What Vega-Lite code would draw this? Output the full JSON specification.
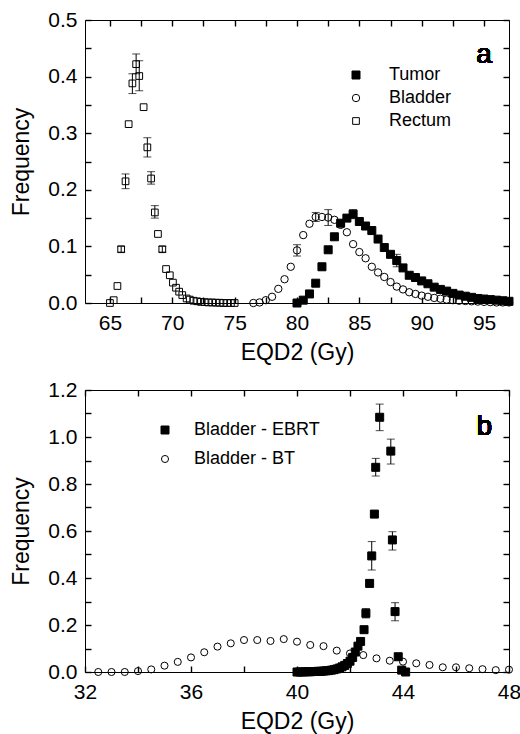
{
  "$schema": "https://vega.github.io/schema/vega-lite/v6.json",
  "padding": {"left": 10, "top": 8, "right": 8, "bottom": 0},
  "spacing": 13,
  "resolve": {"scale": {"shape": "independent", "fill": "independent", "size": "independent"}, "legend": {"shape": "independent", "fill": "independent", "size": "independent"}},
  "config": {
    "font": "Liberation Sans",
    "view": {"stroke": "#000", "strokeWidth": 1},
    "axis": {"grid": false, "domain": false, "ticks": true, "tickSize": 6, "tickWidth": 1.4, "tickOpacity": 1, "offset": -6, "zindex": 1, "labelFlush": false, "labelOverlap": false, "tickColor": "#000", "labelColor": "#000", "titleColor": "#000", "labelFontSize": 21, "titleFontSize": 23, "titleFontWeight": "normal"},
    "axisX": {"labelPadding": 9},
    "axisY": {"labelPadding": 8}
  },
  "datasets": {
    "top": [
      {"g": "Bladder", "x": 76.5, "y": 0.0},
      {"g": "Bladder", "x": 77.0, "y": 0.001},
      {"g": "Bladder", "x": 77.5, "y": 0.005},
      {"g": "Bladder", "x": 78.0, "y": 0.011},
      {"g": "Bladder", "x": 78.5, "y": 0.025},
      {"g": "Bladder", "x": 79.0, "y": 0.042},
      {"g": "Bladder", "x": 79.5, "y": 0.064},
      {"g": "Bladder", "x": 80.0, "y": 0.093, "lo": 0.083, "hi": 0.103},
      {"g": "Bladder", "x": 80.5, "y": 0.12},
      {"g": "Bladder", "x": 81.0, "y": 0.14},
      {"g": "Bladder", "x": 81.5, "y": 0.152, "lo": 0.144, "hi": 0.16},
      {"g": "Bladder", "x": 82.0, "y": 0.152},
      {"g": "Bladder", "x": 82.5, "y": 0.151, "lo": 0.137, "hi": 0.165},
      {"g": "Bladder", "x": 83.0, "y": 0.147},
      {"g": "Bladder", "x": 83.5, "y": 0.138},
      {"g": "Bladder", "x": 84.0, "y": 0.125},
      {"g": "Bladder", "x": 84.5, "y": 0.104},
      {"g": "Bladder", "x": 85.0, "y": 0.09},
      {"g": "Bladder", "x": 85.5, "y": 0.079},
      {"g": "Bladder", "x": 86.0, "y": 0.064},
      {"g": "Bladder", "x": 86.5, "y": 0.054},
      {"g": "Bladder", "x": 87.0, "y": 0.046},
      {"g": "Bladder", "x": 87.5, "y": 0.037},
      {"g": "Bladder", "x": 88.0, "y": 0.029},
      {"g": "Bladder", "x": 88.5, "y": 0.024},
      {"g": "Bladder", "x": 89.0, "y": 0.019},
      {"g": "Bladder", "x": 89.5, "y": 0.016},
      {"g": "Bladder", "x": 90.0, "y": 0.013},
      {"g": "Bladder", "x": 90.5, "y": 0.011},
      {"g": "Bladder", "x": 91.0, "y": 0.009},
      {"g": "Bladder", "x": 91.5, "y": 0.0076},
      {"g": "Bladder", "x": 92.0, "y": 0.006},
      {"g": "Bladder", "x": 92.5, "y": 0.005},
      {"g": "Bladder", "x": 93.0, "y": 0.004},
      {"g": "Bladder", "x": 93.5, "y": 0.0035},
      {"g": "Bladder", "x": 94.0, "y": 0.003},
      {"g": "Bladder", "x": 94.5, "y": 0.0025},
      {"g": "Bladder", "x": 95.0, "y": 0.002},
      {"g": "Bladder", "x": 95.5, "y": 0.0015},
      {"g": "Bladder", "x": 96.0, "y": 0.001},
      {"g": "Bladder", "x": 96.5, "y": 0.001},
      {"g": "Bladder", "x": 97.0, "y": 0.001},
      {"g": "Rectum", "x": 65.0, "y": 0.0},
      {"g": "Rectum", "x": 65.3, "y": 0.005},
      {"g": "Rectum", "x": 65.6, "y": 0.03},
      {"g": "Rectum", "x": 65.9, "y": 0.095, "lo": 0.09, "hi": 0.1},
      {"g": "Rectum", "x": 66.25, "y": 0.215, "lo": 0.202, "hi": 0.228},
      {"g": "Rectum", "x": 66.5, "y": 0.316},
      {"g": "Rectum", "x": 66.8, "y": 0.388, "lo": 0.37, "hi": 0.405},
      {"g": "Rectum", "x": 67.1, "y": 0.422, "lo": 0.405, "hi": 0.44},
      {"g": "Rectum", "x": 67.35, "y": 0.401, "lo": 0.375, "hi": 0.428},
      {"g": "Rectum", "x": 67.7, "y": 0.346},
      {"g": "Rectum", "x": 68.0, "y": 0.275, "lo": 0.258, "hi": 0.292},
      {"g": "Rectum", "x": 68.3, "y": 0.22, "lo": 0.21, "hi": 0.232},
      {"g": "Rectum", "x": 68.6, "y": 0.16, "lo": 0.15, "hi": 0.172},
      {"g": "Rectum", "x": 68.85, "y": 0.122},
      {"g": "Rectum", "x": 69.2, "y": 0.095, "lo": 0.09, "hi": 0.1},
      {"g": "Rectum", "x": 69.5, "y": 0.06},
      {"g": "Rectum", "x": 69.8, "y": 0.049},
      {"g": "Rectum", "x": 70.05, "y": 0.036},
      {"g": "Rectum", "x": 70.3, "y": 0.027},
      {"g": "Rectum", "x": 70.55, "y": 0.02},
      {"g": "Rectum", "x": 70.8, "y": 0.014},
      {"g": "Rectum", "x": 71.15, "y": 0.008},
      {"g": "Rectum", "x": 71.4, "y": 0.006},
      {"g": "Rectum", "x": 71.7, "y": 0.004},
      {"g": "Rectum", "x": 72.0, "y": 0.003},
      {"g": "Rectum", "x": 72.3, "y": 0.002},
      {"g": "Rectum", "x": 72.6, "y": 0.0015},
      {"g": "Rectum", "x": 72.9, "y": 0.001},
      {"g": "Rectum", "x": 73.2, "y": 0.001},
      {"g": "Rectum", "x": 73.5, "y": 0.0005},
      {"g": "Rectum", "x": 73.8, "y": 0.0005},
      {"g": "Rectum", "x": 74.1, "y": 0.0},
      {"g": "Rectum", "x": 74.4, "y": 0.0},
      {"g": "Rectum", "x": 74.7, "y": 0.0},
      {"g": "Rectum", "x": 75.0, "y": 0.0},
      {"g": "Tumor", "x": 80.0, "y": 0.0},
      {"g": "Tumor", "x": 80.5, "y": 0.005},
      {"g": "Tumor", "x": 81.0, "y": 0.016},
      {"g": "Tumor", "x": 81.5, "y": 0.035},
      {"g": "Tumor", "x": 82.0, "y": 0.064},
      {"g": "Tumor", "x": 82.5, "y": 0.094},
      {"g": "Tumor", "x": 83.0, "y": 0.117},
      {"g": "Tumor", "x": 83.5, "y": 0.141},
      {"g": "Tumor", "x": 84.0, "y": 0.15},
      {"g": "Tumor", "x": 84.5, "y": 0.157, "lo": 0.149, "hi": 0.165},
      {"g": "Tumor", "x": 85.0, "y": 0.144},
      {"g": "Tumor", "x": 85.5, "y": 0.136},
      {"g": "Tumor", "x": 86.0, "y": 0.128},
      {"g": "Tumor", "x": 86.5, "y": 0.113},
      {"g": "Tumor", "x": 87.0, "y": 0.098},
      {"g": "Tumor", "x": 87.5, "y": 0.086},
      {"g": "Tumor", "x": 88.0, "y": 0.075, "lo": 0.064, "hi": 0.086},
      {"g": "Tumor", "x": 88.5, "y": 0.062},
      {"g": "Tumor", "x": 89.0, "y": 0.049},
      {"g": "Tumor", "x": 89.5, "y": 0.045},
      {"g": "Tumor", "x": 90.0, "y": 0.039},
      {"g": "Tumor", "x": 90.5, "y": 0.034},
      {"g": "Tumor", "x": 91.0, "y": 0.028},
      {"g": "Tumor", "x": 91.5, "y": 0.024},
      {"g": "Tumor", "x": 92.0, "y": 0.021},
      {"g": "Tumor", "x": 92.5, "y": 0.017},
      {"g": "Tumor", "x": 93.0, "y": 0.014},
      {"g": "Tumor", "x": 93.5, "y": 0.012},
      {"g": "Tumor", "x": 94.0, "y": 0.01},
      {"g": "Tumor", "x": 94.5, "y": 0.008},
      {"g": "Tumor", "x": 95.0, "y": 0.007},
      {"g": "Tumor", "x": 95.5, "y": 0.006},
      {"g": "Tumor", "x": 96.0, "y": 0.005},
      {"g": "Tumor", "x": 96.5, "y": 0.004},
      {"g": "Tumor", "x": 97.0, "y": 0.003}
    ],
    "bottom": [
      {"g": "Bladder - BT", "x": 32.5, "y": 0.0},
      {"g": "Bladder - BT", "x": 33.0, "y": 0.0},
      {"g": "Bladder - BT", "x": 33.5, "y": 0.0},
      {"g": "Bladder - BT", "x": 34.0, "y": 0.004},
      {"g": "Bladder - BT", "x": 34.5, "y": 0.011},
      {"g": "Bladder - BT", "x": 35.0, "y": 0.027},
      {"g": "Bladder - BT", "x": 35.5, "y": 0.043},
      {"g": "Bladder - BT", "x": 36.0, "y": 0.062},
      {"g": "Bladder - BT", "x": 36.5, "y": 0.084},
      {"g": "Bladder - BT", "x": 37.0, "y": 0.108},
      {"g": "Bladder - BT", "x": 37.5, "y": 0.122},
      {"g": "Bladder - BT", "x": 38.0, "y": 0.136},
      {"g": "Bladder - BT", "x": 38.5, "y": 0.136},
      {"g": "Bladder - BT", "x": 39.0, "y": 0.132},
      {"g": "Bladder - BT", "x": 39.5, "y": 0.14},
      {"g": "Bladder - BT", "x": 40.0, "y": 0.129},
      {"g": "Bladder - BT", "x": 40.5, "y": 0.115},
      {"g": "Bladder - BT", "x": 41.0, "y": 0.11},
      {"g": "Bladder - BT", "x": 41.5, "y": 0.091},
      {"g": "Bladder - BT", "x": 42.0, "y": 0.079},
      {"g": "Bladder - BT", "x": 42.5, "y": 0.072},
      {"g": "Bladder - BT", "x": 43.0, "y": 0.058},
      {"g": "Bladder - BT", "x": 43.5, "y": 0.048},
      {"g": "Bladder - BT", "x": 44.0, "y": 0.044},
      {"g": "Bladder - BT", "x": 44.5, "y": 0.037},
      {"g": "Bladder - BT", "x": 45.0, "y": 0.03},
      {"g": "Bladder - BT", "x": 45.5, "y": 0.02},
      {"g": "Bladder - BT", "x": 46.0, "y": 0.02},
      {"g": "Bladder - BT", "x": 46.5, "y": 0.016},
      {"g": "Bladder - BT", "x": 47.0, "y": 0.012},
      {"g": "Bladder - BT", "x": 47.5, "y": 0.008},
      {"g": "Bladder - BT", "x": 48.0, "y": 0.01},
      {"g": "Bladder - EBRT", "x": 40.0, "y": 0.0},
      {"g": "Bladder - EBRT", "x": 40.1, "y": 0.0},
      {"g": "Bladder - EBRT", "x": 40.2, "y": 0.0},
      {"g": "Bladder - EBRT", "x": 40.3, "y": 0.001},
      {"g": "Bladder - EBRT", "x": 40.4, "y": 0.001},
      {"g": "Bladder - EBRT", "x": 40.5, "y": 0.001},
      {"g": "Bladder - EBRT", "x": 40.6, "y": 0.002},
      {"g": "Bladder - EBRT", "x": 40.7, "y": 0.002},
      {"g": "Bladder - EBRT", "x": 40.8, "y": 0.003},
      {"g": "Bladder - EBRT", "x": 40.9, "y": 0.003},
      {"g": "Bladder - EBRT", "x": 41.0, "y": 0.004},
      {"g": "Bladder - EBRT", "x": 41.1, "y": 0.005},
      {"g": "Bladder - EBRT", "x": 41.2, "y": 0.006},
      {"g": "Bladder - EBRT", "x": 41.3, "y": 0.008},
      {"g": "Bladder - EBRT", "x": 41.4, "y": 0.01},
      {"g": "Bladder - EBRT", "x": 41.5, "y": 0.013},
      {"g": "Bladder - EBRT", "x": 41.6, "y": 0.017},
      {"g": "Bladder - EBRT", "x": 41.7, "y": 0.022},
      {"g": "Bladder - EBRT", "x": 41.8, "y": 0.028},
      {"g": "Bladder - EBRT", "x": 41.9, "y": 0.036},
      {"g": "Bladder - EBRT", "x": 42.0, "y": 0.046},
      {"g": "Bladder - EBRT", "x": 42.1, "y": 0.062},
      {"g": "Bladder - EBRT", "x": 42.2, "y": 0.085},
      {"g": "Bladder - EBRT", "x": 42.3, "y": 0.11},
      {"g": "Bladder - EBRT", "x": 42.4, "y": 0.13},
      {"g": "Bladder - EBRT", "x": 42.53, "y": 0.18},
      {"g": "Bladder - EBRT", "x": 42.6, "y": 0.25, "lo": 0.23, "hi": 0.27},
      {"g": "Bladder - EBRT", "x": 42.74, "y": 0.377, "lo": 0.362, "hi": 0.392},
      {"g": "Bladder - EBRT", "x": 42.82, "y": 0.494, "lo": 0.434, "hi": 0.555},
      {"g": "Bladder - EBRT", "x": 42.92, "y": 0.672, "lo": 0.662, "hi": 0.682},
      {"g": "Bladder - EBRT", "x": 42.97, "y": 0.871, "lo": 0.834, "hi": 0.909},
      {"g": "Bladder - EBRT", "x": 43.12, "y": 1.084, "lo": 1.027, "hi": 1.14},
      {"g": "Bladder - EBRT", "x": 43.54, "y": 0.94, "lo": 0.885, "hi": 0.991},
      {"g": "Bladder - EBRT", "x": 43.6, "y": 0.562, "lo": 0.519, "hi": 0.597},
      {"g": "Bladder - EBRT", "x": 43.7, "y": 0.257, "lo": 0.218, "hi": 0.295},
      {"g": "Bladder - EBRT", "x": 43.82, "y": 0.065, "lo": 0.052, "hi": 0.078},
      {"g": "Bladder - EBRT", "x": 43.95, "y": 0.008},
      {"g": "Bladder - EBRT", "x": 44.1, "y": 0.0}
    ]
  },
  "vconcat": [
    {
      "width": 424,
      "height": 283,
      "data": {"name": "top"},
      "resolve": {"axis": {"x": "independent", "y": "independent"}},
      "layer": [
        {
          "transform": [{"filter": "isValid(datum.lo)"}],
          "mark": {"type": "errorbar", "ticks": {"size": 8, "thickness": 1}, "color": "#000", "thickness": 1},
          "encoding": {
            "x": {"field": "x", "type": "quantitative", "scale": {"domain": [63, 97], "nice": false, "zero": false},
                  "axis": {"orient": "top", "labels": false, "title": null, "ticks": true, "tickSize": 6, "offset": -6, "zindex": 1, "values": [65, 67.5, 70, 72.5, 75, 77.5, 80, 82.5, 85, 87.5, 90, 92.5, 95]}},
            "y": {"field": "lo", "type": "quantitative", "scale": {"domain": [0, 0.5], "nice": false},
                  "axis": {"orient": "right", "labels": false, "title": null, "ticks": true, "tickSize": 6, "offset": -6, "zindex": 1, "values": [0, 0.05, 0.1, 0.15, 0.2, 0.25, 0.3, 0.35, 0.4, 0.45, 0.5]}},
            "y2": {"field": "hi"}
          }
        },
        {
          "mark": {"type": "point", "filled": true, "stroke": "#000", "strokeWidth": 1, "opacity": 1},
          "encoding": {
            "x": {"field": "x", "type": "quantitative", "scale": {"domain": [63, 97], "nice": false, "zero": false},
                  "axis": {"orient": "bottom", "title": "EQD2 (Gy)", "titlePadding": 8, "ticks": true, "tickSize": 6, "offset": -6, "zindex": 1, "values": [65, 67.5, 70, 72.5, 75, 77.5, 80, 82.5, 85, 87.5, 90, 92.5, 95], "labelExpr": "datum.value % 5 == 0 ? datum.label : ''"}},
            "y": {"field": "y", "type": "quantitative", "scale": {"domain": [0, 0.5], "nice": false},
                  "axis": {"orient": "left", "title": "Frequency", "titlePadding": 14, "ticks": true, "tickSize": 6, "offset": -6, "zindex": 1, "values": [0, 0.05, 0.1, 0.15, 0.2, 0.25, 0.3, 0.35, 0.4, 0.45, 0.5], "labelExpr": "round(datum.value * 20) % 2 == 0 ? format(datum.value, '.1f') : ''"}},
            "shape": {"field": "g", "type": "nominal", "scale": {"domain": ["Tumor", "Bladder", "Rectum"], "range": ["square", "circle", "square"]},
                      "legend": {"title": null, "orient": "none", "legendX": 262, "legendY": 46, "padding": 0, "labelFontSize": 18, "labelColor": "#000", "labelOffset": 24, "rowPadding": 5, "symbolStrokeColor": "#000", "symbolStrokeWidth": 1}},
            "fill": {"field": "g", "type": "nominal", "scale": {"domain": ["Tumor", "Bladder", "Rectum"], "range": ["#000", "transparent", "transparent"]}},
            "size": {"field": "g", "type": "nominal", "scale": {"domain": ["Tumor", "Bladder", "Rectum"], "range": [64, 45, 64]}}
          }
        },
        {
          "mark": {"type": "text", "text": "a", "fontSize": 28, "fontWeight": "normal", "align": "center", "baseline": "alphabetic", "color": "#000"},
          "encoding": {
            "x": {"datum": 95.0, "type": "quantitative", "axis": null},
            "y": {"datum": 0.424, "type": "quantitative", "axis": null}
          }
        }
      ]
    },
    {
      "width": 424,
      "height": 282,
      "data": {"name": "bottom"},
      "resolve": {"axis": {"x": "independent", "y": "independent"}},
      "layer": [
        {
          "transform": [{"filter": "isValid(datum.lo)"}],
          "mark": {"type": "errorbar", "ticks": {"size": 8, "thickness": 1}, "color": "#000", "thickness": 1},
          "encoding": {
            "x": {"field": "x", "type": "quantitative", "scale": {"domain": [32, 48], "nice": false, "zero": false},
                  "axis": {"orient": "top", "labels": false, "title": null, "ticks": true, "tickSize": 6, "offset": -6, "zindex": 1, "values": [32, 34, 36, 38, 40, 42, 44, 46, 48]}},
            "y": {"field": "lo", "type": "quantitative", "scale": {"domain": [0, 1.2], "nice": false},
                  "axis": {"orient": "right", "labels": false, "title": null, "ticks": true, "tickSize": 6, "offset": -6, "zindex": 1, "values": [0, 0.1, 0.2, 0.3, 0.4, 0.5, 0.6, 0.7, 0.8, 0.9, 1.0, 1.1, 1.2]}},
            "y2": {"field": "hi"}
          }
        },
        {
          "mark": {"type": "point", "filled": true, "stroke": "#000", "strokeWidth": 1, "opacity": 1},
          "encoding": {
            "x": {"field": "x", "type": "quantitative", "scale": {"domain": [32, 48], "nice": false, "zero": false},
                  "axis": {"orient": "bottom", "title": "EQD2 (Gy)", "titlePadding": 8, "ticks": true, "tickSize": 6, "offset": -6, "zindex": 1, "values": [32, 34, 36, 38, 40, 42, 44, 46, 48], "labelExpr": "datum.value % 4 == 0 ? datum.label : ''"}},
            "y": {"field": "y", "type": "quantitative", "scale": {"domain": [0, 1.2], "nice": false},
                  "axis": {"orient": "left", "title": "Frequency", "titlePadding": 14, "ticks": true, "tickSize": 6, "offset": -6, "zindex": 1, "values": [0, 0.1, 0.2, 0.3, 0.4, 0.5, 0.6, 0.7, 0.8, 0.9, 1.0, 1.1, 1.2], "labelExpr": "round(datum.value * 10) % 2 == 0 ? format(datum.value, '.1f') : ''"}},
            "shape": {"field": "g", "type": "nominal", "scale": {"domain": ["Bladder - EBRT", "Bladder - BT"], "range": ["square", "circle"]},
                      "legend": {"title": null, "orient": "none", "legendX": 71, "legendY": 31, "padding": 0, "labelFontSize": 18, "labelColor": "#000", "labelOffset": 20, "rowPadding": 11, "symbolStrokeColor": "#000", "symbolStrokeWidth": 1}},
            "fill": {"field": "g", "type": "nominal", "scale": {"domain": ["Bladder - EBRT", "Bladder - BT"], "range": ["#000", "transparent"]}},
            "size": {"field": "g", "type": "nominal", "scale": {"domain": ["Bladder - EBRT", "Bladder - BT"], "range": [64, 50]}}
          }
        },
        {
          "mark": {"type": "text", "text": "b", "fontSize": 28, "fontWeight": "normal", "align": "center", "baseline": "alphabetic", "color": "#000"},
          "encoding": {
            "x": {"datum": 47.07, "type": "quantitative", "axis": null},
            "y": {"datum": 1.008, "type": "quantitative", "axis": null}
          }
        }
      ]
    }
  ]
}
